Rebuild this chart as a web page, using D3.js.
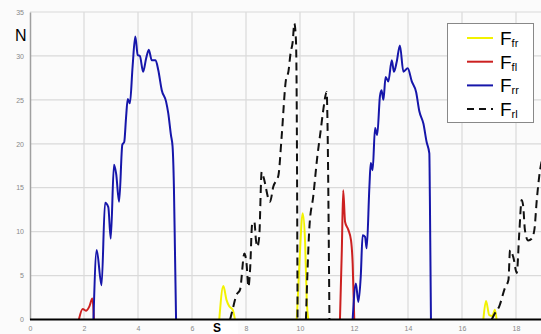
<!DOCTYPE html>
<html><head><meta charset="utf-8">
<script src="https://cdn.jsdelivr.net/npm/d3@7"></script>
<style>body{margin:0;background:#fbfbfb;}svg{display:block;}</style>
</head><body>
<svg id="c" width="541" height="334"></svg>
<script>
// ---- data ----
const xTicks = [0,2,4,6,8,10,12,14,16,18];
const yTicks = [0,5,10,15,20,25,30,35];
const seriesNames = ["fr","fl","rr","rl"];
const seriesColors = ["#f2f200","#cc2020","#1616aa","#111111"];

const ffr = [
  [[7.01,0],[7.16,3.8],[7.28,2.2],[7.38,1.5],[7.51,1.1],[7.59,0]],
  [[9.88,0],[9.98,6.5],[10.1,12.1],[10.19,8.7],[10.25,2.2],[10.31,0]],
  [[16.79,0],[16.89,2.1],[17.01,0.5],[17.12,0.4],[17.22,1.1],[17.28,0]]
];
const ffl = [
  [[1.81,0],[1.95,1.2],[2.07,1.0],[2.2,1.5],[2.31,2.4],[2.37,0]],
  [[11.48,0],[11.55,8.0],[11.6,14.7],[11.67,11.1],[11.79,10.2],[11.89,9.0],[11.95,6.4],[12.01,0]]
];
const frr = [
  [[2.35,0],[2.47,7.9],[2.65,3.9],[2.78,13.3],[2.9,12.8],[2.99,9.2],[3.11,17.6],[3.19,16.6],[3.3,13.4],
   [3.42,19.9],[3.49,20.2],[3.56,23.1],[3.62,25.1],[3.7,24.6],[3.8,28.8],[3.9,32.2],[3.99,30.1],[4.07,30.0],
   [4.19,28.2],[4.3,29.7],[4.4,30.7],[4.51,29.5],[4.65,29.5],[4.75,28.4],[4.88,26.1],[5.04,24.8],[5.12,23.5],
   [5.22,21.0],[5.28,19.7],[5.33,15.1],[5.37,7.6],[5.41,0]],
  [[11.95,0],[12.07,4.1],[12.16,2.0],[12.25,4.9],[12.32,9.6],[12.41,9.4],[12.47,8.1],[12.57,15.1],[12.62,17.8],
   [12.69,17.0],[12.78,21.8],[12.86,21.0],[12.96,25.4],[13.02,26.1],[13.09,25.0],[13.17,27.6],[13.27,27.1],
   [13.4,29.5],[13.48,28.2],[13.58,29.3],[13.7,31.2],[13.83,28.2],[13.99,28.6],[14.14,27.1],[14.3,25.9],
   [14.42,23.7],[14.57,22.3],[14.69,20.2],[14.79,18.9],[14.81,14.0],[14.85,0]]
];
const frl = [
  [[7.41,0],[7.47,0.7],[7.65,2.8],[7.78,3.4],[7.94,7.5],[8.02,6.4],[8.09,3.7],[8.15,5.6],[8.23,10.9],[8.31,11.1],
   [8.37,9.0],[8.42,8.3],[8.49,9.4],[8.58,16.8],[8.64,16.3],[8.89,13.4],[9.01,15.1],[9.2,16.4],[9.32,20.8],
   [9.48,27.3],[9.57,28.2],[9.65,30.3],[9.73,31.6],[9.79,33.7],[9.85,31.8],[9.88,23.8],[9.91,0]],
  [[10.22,0],[10.35,10.6],[10.49,14.0],[10.64,18.5],[10.77,21.6],[10.86,23.8],[10.99,25.9],[11.01,23.8],[11.09,0]],
  [[17.1,0],[17.22,0.7],[17.38,1.5],[17.59,3.6],[17.72,4.5],[17.78,7.9],[17.9,7.1],[18.03,5.3],[18.12,9.8],
   [18.21,13.6],[18.27,12.8],[18.33,10.2],[18.45,9.0],[18.58,9.2],[18.68,10.2],[18.77,13.6],[18.86,16.3],[18.95,18.0]]
];
const seriesData = [ffr, ffl, frr, frl];

// ---- chart ----
const svg = d3.select("#c");
const x = d3.scaleLinear().domain([0,19]).range([30,543]);
const y = d3.scaleLinear().domain([0,35]).range([319.5,12]);

svg.append("rect").attr("x",0).attr("y",0).attr("width",541).attr("height",334).attr("fill","#fbfbfb");

// grid
const g = svg.append("g");
g.selectAll(".gy").data(yTicks.filter(d=>d>0)).join("line")
  .attr("x1",30).attr("x2",541).attr("y1",d=>y(d)).attr("y2",d=>y(d))
  .attr("stroke","#dadada").attr("stroke-width",1.2);
g.selectAll(".gx").data(xTicks.filter(d=>d>0)).join("line")
  .attr("y1",12).attr("y2",319.5).attr("x1",d=>x(d)).attr("x2",d=>x(d))
  .attr("stroke","#dadada").attr("stroke-width",1.2);

// axes
const yAxis = d3.axisLeft(y).tickValues(yTicks).tickSize(0).tickPadding(6);
const ya = svg.append("g").attr("transform","translate(30,0)").call(yAxis);
ya.select(".domain").attr("stroke","#a0a0a0").attr("stroke-width",1.5);
ya.selectAll("text").attr("fill","#888").style("font-family","Arial, 'Liberation Sans', sans-serif").style("font-size","7px");

const xAxis = d3.axisBottom(x).tickValues(xTicks).tickSize(0).tickPadding(7);
const xa = svg.append("g").attr("transform","translate(0,319.5)").call(xAxis);
xa.select(".domain").remove();
xa.selectAll("text").attr("fill","#888").style("font-family","Arial, 'Liberation Sans', sans-serif").style("font-size","7px");

// lines
const line = d3.line().x(d=>x(d[0])).y(d=>y(d[1])).curve(d3.curveMonotoneX);
seriesData.forEach((segs,i)=>{
  svg.append("g").selectAll("path").data(segs).join("path")
    .attr("d",line).attr("fill","none")
    .attr("stroke",seriesColors[i]).attr("stroke-width",2)
    .attr("stroke-linejoin","round")
    .attr("stroke-dasharray", i===3 ? "8,5" : null);
});

// zero line
svg.append("line").attr("x1",30).attr("x2",541).attr("y1",y(0)).attr("y2",y(0))
  .attr("stroke","#000").attr("stroke-width",2);

// axis titles
const font = "Arial, 'Liberation Sans', sans-serif";
svg.append("text").attr("x",15).attr("y",41).text("N")
  .style("font-family",font).style("font-size","16px").attr("fill","#000");
svg.append("rect").attr("x",210).attr("y",322).attr("width",28).attr("height",12).attr("fill","#fff");
svg.append("text").attr("x",213).attr("y",331.5).text("S")
  .style("font-family",font).style("font-size","12px").style("font-weight","bold").attr("fill","#000");

// legend
const lg = svg.append("g");
lg.append("rect").attr("x",447.5).attr("y",23.5).attr("width",86).attr("height",99)
  .attr("fill","#fff").attr("stroke","#888").attr("stroke-width",1);
seriesNames.forEach((n,i)=>{
  const cy = 38 + i*23.7;
  lg.append("line").attr("x1",467).attr("x2",493).attr("y1",cy).attr("y2",cy)
    .attr("stroke",seriesColors[i]).attr("stroke-width",2)
    .attr("stroke-dasharray", i===3 ? "7,5" : null);
  const t = lg.append("text").attr("x",500).attr("y",cy+7)
    .style("font-family",font).attr("fill","#000");
  t.append("tspan").text("F").style("font-size","19px");
  t.append("tspan").text(n).style("font-size","11px").attr("dy",2);
});
</script>
</body></html>
